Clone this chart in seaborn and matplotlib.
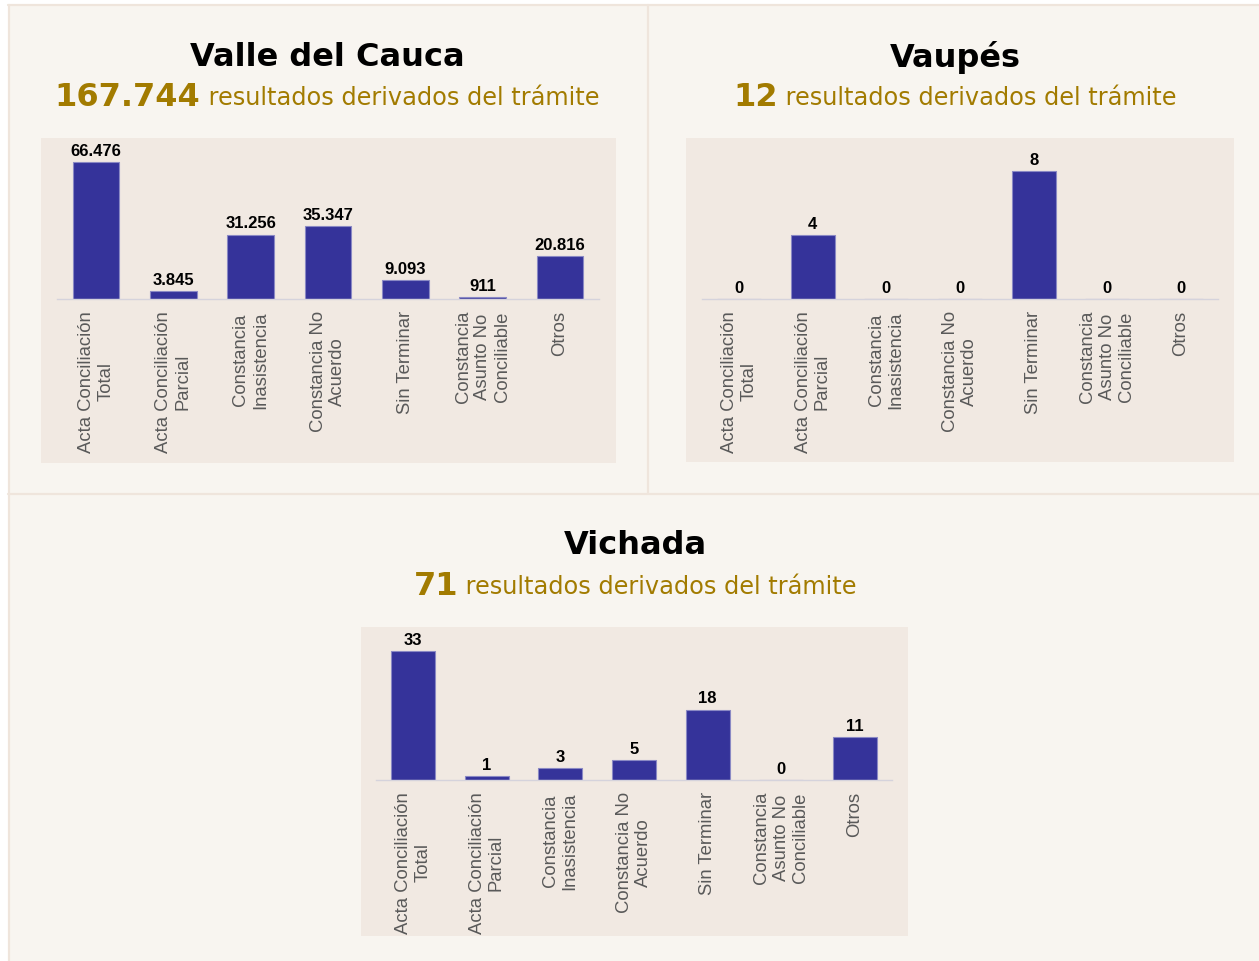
import matplotlib
matplotlib.use("Agg")
import matplotlib.pyplot as plt
from matplotlib.patches import Rectangle
from matplotlib.lines import Line2D
import seaborn as sns
import pandas as pd

# --- data -------------------------------------------------------------
categorias = [
    "Acta Conciliación\nTotal",
    "Acta Conciliación\nParcial",
    "Constancia\nInasistencia",
    "Constancia No\nAcuerdo",
    "Sin Terminar",
    "Constancia\nAsunto No\nConciliable",
    "Otros",
]
valle_valores = [66476, 3845, 31256, 35347, 9093, 911, 20816]
vaupes_valores = [0, 4, 0, 0, 8, 0, 0]
vichada_valores = [33, 1, 3, 5, 18, 0, 11]

titulos = ["Valle del Cauca", "Vaupés", "Vichada"]
totales = ["167.744", "12", "71"]
subtitulo = "resultados derivados del trámite"

# --- style ------------------------------------------------------------
sns.set_theme(style="white")
plt.rcParams["font.family"] = ["DejaVu Sans"]

W, H = 1259, 962
DPI = 100
PANEL_BG = "#f8f5f0"
BORDER = "#efe5dc"
PLOT_BG = "#f1e9e2"
BAR = "#35339a"
GOLD = "#a27b00"
TICK = "#595959"

fig = plt.figure(figsize=(W / DPI, H / DPI), dpi=DPI)
fig.patch.set_facecolor("white")


def px_rect(x0, y0, x1, y1, **kw):
    """Rectangle given in pixel coordinates (y from top)."""
    fig.patches.append(Rectangle((x0 / W, 1 - y1 / H), (x1 - x0) / W, (y1 - y0) / H,
                                 transform=fig.transFigure, **kw))


def px_line(x0, y0, x1, y1, **kw):
    fig.lines.append(Line2D([x0 / W, x1 / W], [1 - y0 / H, 1 - y1 / H],
                            transform=fig.transFigure, **kw))


# panel canvas and separators
px_rect(8, 6, W, H, facecolor=PANEL_BG, edgecolor="none", zorder=-3)
px_line(8, 6, W, 6, color=BORDER, lw=1.6, zorder=-2)
px_line(8.5, 6, 8.5, H, color=BORDER, lw=1.6, zorder=-2)
px_line(648, 6, 648, 494, color=BORDER, lw=1.6, zorder=-2)
px_line(8, 494.5, W, 494.5, color=BORDER, lw=1.6, zorder=-2)

# chart backgrounds
px_rect(41, 139, 616, 464, facecolor=PLOT_BG, edgecolor="none", zorder=-1)
px_rect(686, 139, 1234, 463, facecolor=PLOT_BG, edgecolor="none", zorder=-1)
px_rect(361, 628, 908, 937, facecolor=PLOT_BG, edgecolor="none", zorder=-1)


def fmt(v):
    return f"{v:,}".replace(",", ".")


def header(cx, ty, sy, titulo, total):
    fig.text(cx / W, 1 - ty / H, titulo, ha="center", va="center",
             fontsize=23, fontweight="bold", color="black", family="DejaVu Sans")
    renderer = fig.canvas.get_renderer()
    t1 = fig.text(0, 1 - sy / H, total, ha="left", va="center", fontsize=23,
                  fontweight="bold", color=GOLD, family="DejaVu Sans")
    t2 = fig.text(0, 1 - sy / H, " " + subtitulo, ha="left", va="center",
                  fontsize=17.3, color=GOLD, family="DejaVu Sans")
    w1 = t1.get_window_extent(renderer).width
    w2 = t2.get_window_extent(renderer).width
    x0 = cx - (w1 + w2) / 2
    t1.set_x(x0 / W)
    t2.set_x((x0 + w1) / W)


def chart(left, right, base, bar_px, valores):
    top = base - bar_px * 1.2
    ax = fig.add_axes([left / W, 1 - base / H, (right - left) / W, (base - top) / H])
    ax.set_facecolor("none")
    ax.patch.set_alpha(0)
    df = pd.DataFrame({"cat": categorias, "val": valores})
    sns.barplot(data=df, x="cat", y="val", color=BAR, width=0.6, ax=ax,
                saturation=1, edgecolor="#8a89c4", linewidth=0.8)
    ax.set_ylim(0, max(valores) * 1.2)
    ax.set_xlim(-0.5, len(categorias) - 0.5)
    for s in ["top", "right", "left"]:
        ax.spines[s].set_visible(False)
    ax.spines["bottom"].set_color("#d5d3dc")
    ax.spines["bottom"].set_linewidth(1.0)
    ax.set_yticks([])
    ax.set_xlabel("")
    ax.set_ylabel("")
    ax.tick_params(axis="x", length=0, pad=8, labelsize=13.3, labelcolor=TICK)
    for lab in ax.get_xticklabels():
        lab.set_rotation(90)
        lab.set_family("Liberation Sans")
        lab.set_linespacing(1.18)
    for i, v in enumerate(valores):
        ax.annotate(fmt(v), (i, v), xytext=(0, 3), textcoords="offset points",
                    ha="center", va="bottom", fontsize=12, fontweight="bold",
                    color="black", family="Liberation Sans")
    return ax


header(327, 57, 98, titulos[0], totales[0])
header(955, 57, 98, titulos[1], totales[1])
header(635, 546, 587, titulos[2], totales[2])

chart(57.3, 598.7, 300, 137, valle_valores)
chart(702.2, 1217.8, 300, 128, vaupes_valores)
chart(376.2, 891.8, 781, 129, vichada_valores)

fig.savefig("out.png", dpi=DPI, facecolor=fig.get_facecolor())
